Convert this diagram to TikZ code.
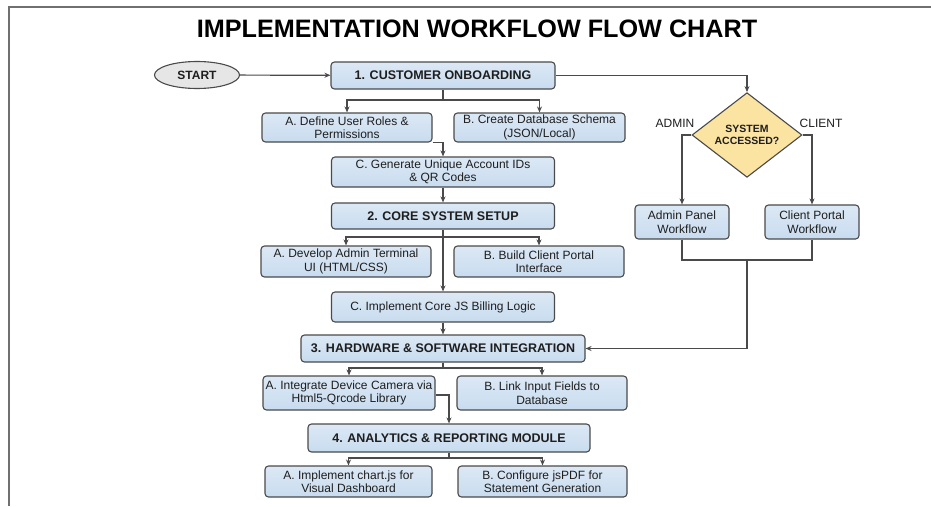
\documentclass[tikz,border=0pt]{standalone}
\usepackage{fontspec}
\setmainfont{Liberation Sans}
\usetikzlibrary{shapes.geometric,arrows.meta}
\definecolor{boxblue}{HTML}{C8DCEF}
\definecolor{boxtop}{HTML}{DCE8F5}
\definecolor{edge}{HTML}{4A4A4A}
\definecolor{diafill}{HTML}{FBE3A2}
\definecolor{startfill}{HTML}{E6E6E6}
\definecolor{txt}{HTML}{1E1E1E}
\definecolor{framec}{HTML}{707070}
\tikzset{
  base/.style={draw=edge, line width=1.1pt, rounded corners=3.5pt, top color=boxtop, bottom color=boxblue, inner sep=0pt, align=center, text=txt},
  sub/.style={base, font=\fontsize{12}{13.5}\selectfont},
  head/.style={base, font=\bfseries\fontsize{12.5}{14}\selectfont},
  arr/.style={draw=edge, line width=1.2pt, -{Stealth[length=6pt,width=5pt]}},
  ln/.style={draw=edge, line width=1.2pt},
  lbl/.style={font=\fontsize{12}{13.5}\selectfont, text=txt, inner sep=0pt},
}
\begin{document}
\begin{tikzpicture}[x=1pt,y=-1pt]
\useasboundingbox (0,0) rectangle (931,506);
\fill[white] (0,0) rectangle (931,506);
\draw[framec, line width=1.5pt] (9,506) -- (9,7) -- (931,7);
\node[font=\bfseries\fontsize{25.2}{28}\selectfont, text=black, inner sep=0pt] (title) at (477,29) {IMPLEMENTATION WORKFLOW FLOW CHART};

\node[ellipse, draw=edge, line width=1.1pt, fill=startfill, minimum width=85pt, minimum height=27pt, inner sep=0pt, font=\bfseries\fontsize{12}{14}\selectfont, text=txt] (start) at (197,75) {START};

\node[head, minimum width=224pt, minimum height=27pt] (s1) at (443,75.5) {1. CUSTOMER ONBOARDING};
\node[sub, minimum width=170pt, minimum height=29pt] (s1a) at (347,127.5) {A. Define User Roles \&\\Permissions};
\node[sub, minimum width=171pt, minimum height=29pt] (s1b) at (539.5,127.5) {B. Create Database Schema\\(JSON/Local)};
\node[sub, minimum width=223pt, minimum height=30pt] (s1c) at (443,172) {C. Generate Unique Account IDs\\\& QR Codes};

\node[head, minimum width=223pt, minimum height=26pt] (s2) at (443,216) {2. CORE SYSTEM SETUP};
\node[sub, minimum width=170pt, minimum height=31pt] (s2a) at (346,261.5) {A. Develop Admin Terminal\\UI (HTML/CSS)};
\node[sub, minimum width=170pt, minimum height=31pt] (s2b) at (539,261.5) {B. Build Client Portal\\Interface};
\node[sub, minimum width=223pt, minimum height=30pt] (s2c) at (443,307) {C. Implement Core JS Billing Logic};

\node[head, minimum width=284pt, minimum height=27pt] (s3) at (443,348.5) {3. HARDWARE \& SOFTWARE INTEGRATION};
\node[sub, minimum width=172pt, minimum height=34pt] (s3a) at (349,393) {A. Integrate Device Camera via\\Html5-Qrcode Library};
\node[sub, minimum width=170pt, minimum height=34pt] (s3b) at (542,393) {B. Link Input Fields to\\Database};

\node[head, minimum width=282pt, minimum height=28pt] (s4) at (449,438) {4. ANALYTICS \& REPORTING MODULE};
\node[sub, minimum width=167pt, minimum height=31pt] (s4a) at (348.5,481.5) {A. Implement chart.js for\\Visual Dashboard};
\node[sub, minimum width=169pt, minimum height=31pt] (s4b) at (542.5,481.5) {B. Configure jsPDF for\\Statement Generation};

\node[diamond, draw=edge, line width=1.1pt, fill=diafill, minimum width=110pt, minimum height=73pt, inner sep=0pt, align=center, font=\bfseries\fontsize{10.5}{12.5}\selectfont, text=txt] (dia) at (747,135) {SYSTEM\\ACCESSED?};
\node[lbl] (ladm) at (675,123) {ADMIN};
\node[lbl] (lcli) at (821,123) {CLIENT};
\node[sub, minimum width=94pt, minimum height=34pt] (adm) at (682,222) {Admin Panel\\Workflow};
\node[sub, minimum width=94pt, minimum height=34pt] (cli) at (812,222) {Client Portal\\Workflow};

% connectors
\draw[arr] (start) -- (s1);
\draw[arr] (s1.east) -| (dia.north);
\coordinate (j1) at (443,100);
\draw[ln] (s1) -- (j1);
\draw[arr] (j1) -| (s1a.north);
\draw[arr] (j1) -| (s1b.north);
\draw[arr] (s1a.south east) -| (s1c.north);
\draw[arr] (s1c) -- (s2);

\coordinate (j2) at (443,237);
\draw[arr] (s2) -- (s2c);
\draw[arr] (j2) -| (s2a.north);
\draw[arr] (j2) -| (s2b.north);
\draw[arr] (s2c) -- (s3);

\coordinate (j3) at (443,368);
\draw[ln] (s3) -- (j3);
\draw[arr] (j3) -| (s3a.north);
\draw[arr] (j3) -| (s3b.north);
\draw[arr] ([yshift=-2pt]s3a.east) -| (s4.north);

\coordinate (j4) at (449,458);
\draw[ln] (s4) -- (j4);
\draw[arr] (j4) -| (s4a.north);
\draw[arr] (j4) -| (s4b.north);

\draw[arr] (dia.west) -| (adm.north);
\draw[arr] (dia.east) -| (cli.north);
\coordinate (m) at (747,260);
\draw[ln] (adm.south) |- (m) -| (cli.south);
\draw[arr] (m) |- (s3.east);
\end{tikzpicture}
\end{document}
